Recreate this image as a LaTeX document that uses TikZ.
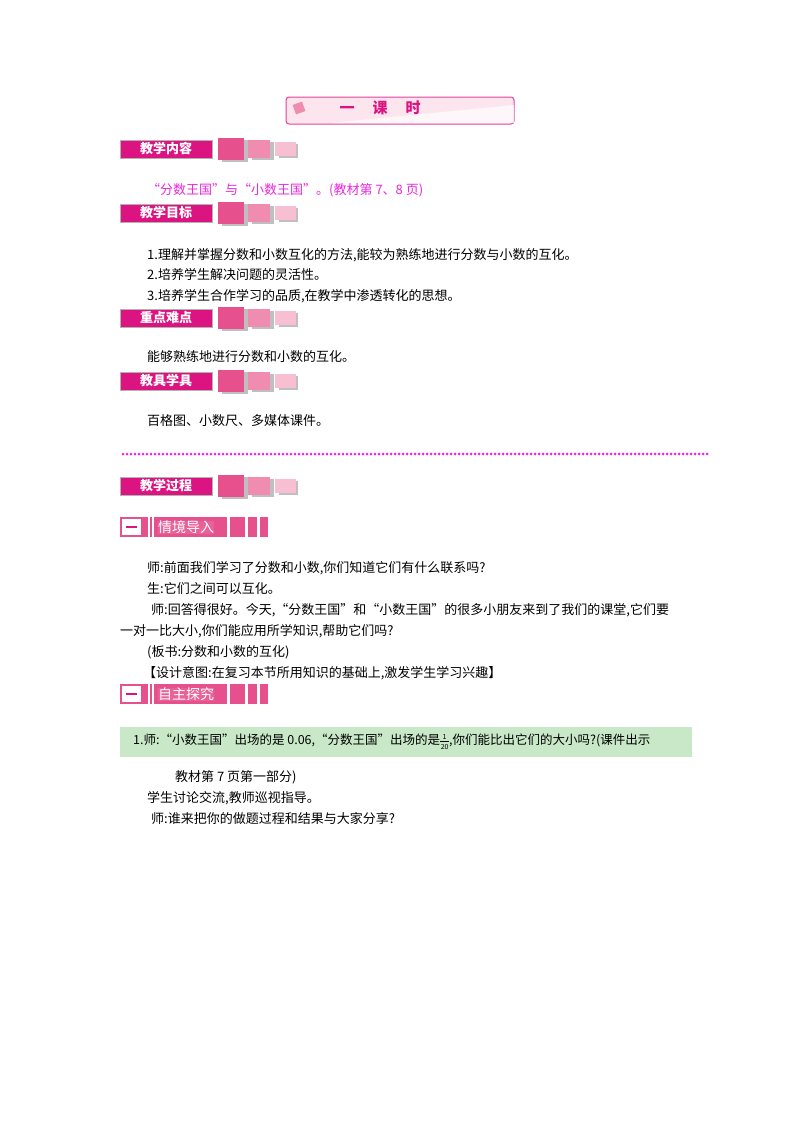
\documentclass[tikz,border=0pt]{standalone}
\usepackage{fontspec}
\setmainfont{Noto Sans CJK SC}
\usetikzlibrary{patterns}
\definecolor{mag}{RGB}{220,20,130}
\definecolor{p1}{RGB}{230,80,140}
\definecolor{p2}{RGB}{240,140,175}
\definecolor{p3}{RGB}{248,190,210}
\definecolor{txtm}{RGB}{235,40,220}
\definecolor{grn}{RGB}{200,232,200}
\tikzset{x=1pt,y=-1pt,
 t/.style={anchor=west,inner sep=0,font=\fontsize{13}{13}\selectfont},
 hd/.style={fill=mag,draw=gray!60,text=white,font=\fontsize{13}{13}\selectfont\bfseries,minimum width=92,minimum height=18,inner sep=0},
 band/.style={fill=p1!90,text=white,font=\fontsize{14}{14}\selectfont,inner sep=0}}
\newcommand{\hdr}[3]{%
 \node[hd] (#1) at (166,#2) {#3};
 \fill[gray!50] (220,#2-11)+(2,2) rectangle +(28,24);
 \fill[p1] (218,#2-11) rectangle (244,#2+11);
 \fill[gray!50] (250,#2-9)+(2,2) rectangle +(24,20);
 \fill[p2] (248,#2-9) rectangle (270,#2+9);
 \fill[gray!50] (277,#2-7)+(2,2) rectangle +(21,16);
 \fill[p3] (275,#2-7) rectangle (296,#2+7);}
\newcommand{\bnd}[3]{%
 \fill[p1] (120,#2-10) rectangle (268,#2+10);
 \fill[white] (122,#2-8) rectangle (141,#2+8);
 \draw[mag,line width=1.5] (126,#2) -- (137,#2);
 \fill[white] (148,#2-10) rectangle (150,#2+10);
 \fill[white] (152,#2-10) rectangle (154,#2+10);
 \fill[white] (227,#2-10) rectangle (230,#2+10);
 \fill[white] (245,#2-10) rectangle (248,#2+10);
 \fill[white] (257,#2-10) rectangle (260,#2+10);
 \node[band,anchor=west] (#1) at (158,#2) {#3};}
\newcommand{\fr}[2]{\raisebox{-5pt}{\fontsize{7}{7}\selectfont\shortstack{#1\\[-1pt]\rule{9pt}{0.4pt}\\#2}}}
\begin{document}
\begin{tikzpicture}
\useasboundingbox (0,0) rectangle (800,1132);
\fill[white] (0,0) rectangle (800,1132);
% title
\draw[mag!80,fill=p3!40,rounded corners=3,line width=1] (286,97) rectangle (514,124);
\fill[white,opacity=.7] (330,123) -- (514,105) -- (514,123) -- cycle;
\fill[p2,rotate around={20:(299,108)}] (294,103) rectangle (304,113);
\node[font=\fontsize{15}{15}\selectfont\bfseries,text=mag] (title) at (380,108) {一\hspace{18pt}课\hspace{18pt}时};
\hdr{h1}{149}{教学内容}
\node[t,text=txtm] (c1) at (147,190) {“分数王国”与“小数王国”。(教材第 7、8 页)};
\hdr{h2}{213}{教学目标}
\node[t] (g1) at (147,255) {1.理解并掌握分数和小数互化的方法,能较为熟练地进行分数与小数的互化。};
\node[t] (g2) at (147,275) {2.培养学生解决问题的灵活性。};
\node[t] (g3) at (147,296) {3.培养学生合作学习的品质,在教学中渗透转化的思想。};
\hdr{h3}{318}{重点难点}
\node[t] (k1) at (147,357) {能够熟练地进行分数和小数的互化。};
\hdr{h4}{381}{教具学具}
\node[t] (j1) at (147,421) {百格图、小数尺、多媒体课件。};
\foreach \i in {0,...,146} \fill[txtm] (123+\i*4,454) circle (1.5);
\hdr{h5}{486}{教学过程}
\bnd{b1}{527}{情境导入}
\node[t] (s1) at (147,568) {师:前面我们学习了分数和小数,你们知道它们有什么联系吗?};
\node[t] (s2) at (147,589) {生:它们之间可以互化。};
\node[t] (s3) at (151,610) {师:回答得很好。今天,“分数王国”和“小数王国”的很多小朋友来到了我们的课堂,它们要};
\node[t] (s4) at (120,631) {一对一比大小,你们能应用所学知识,帮助它们吗?};
\node[t] (s5) at (147,652) {(板书:分数和小数的互化)};
\node[t] (s6) at (143,673) {【设计意图:在复习本节所用知识的基础上,激发学生学习兴趣】};
\bnd{b2}{694}{自主探究}
\fill[grn] (120,727) rectangle (692,757);
\node[t,font=\fontsize{12.5}{12.5}\selectfont] (q1) at (133,742) {1.师:“小数王国”出场的是 0.06,“分数王国”出场的是\fr{1}{20},你们能比出它们的大小吗?(课件出示};
\node[t] (q2) at (175,777) {教材第 7 页第一部分)};
\node[t] (q3) at (147,798) {学生讨论交流,教师巡视指导。};
\node[t] (q4) at (151,819) {师:谁来把你的做题过程和结果与大家分享?};
\end{tikzpicture}
\end{document}
